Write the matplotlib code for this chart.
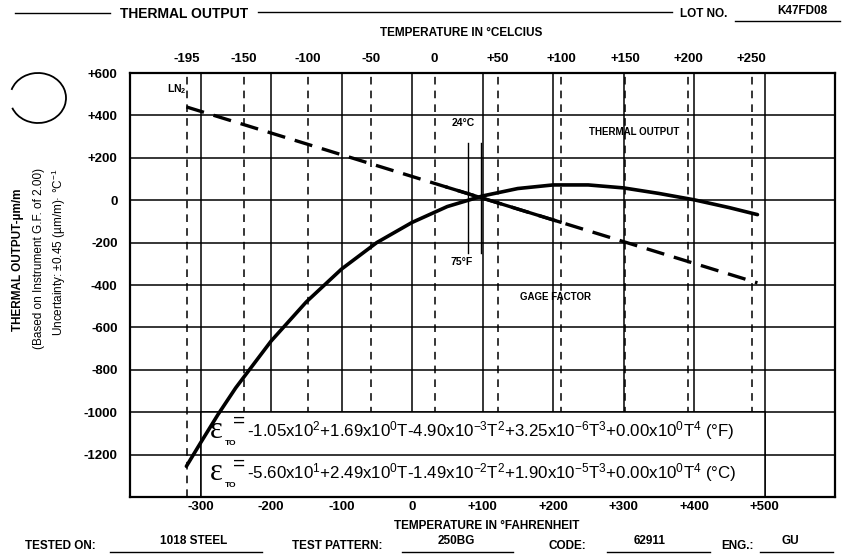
import numpy as np
import matplotlib
matplotlib.use("Agg")
import matplotlib.pyplot as plt
from matplotlib.patches import Rectangle, Arc
from matplotlib.lines import Line2D

plt.rcParams['font.family'] = ['Liberation Sans', 'DejaVu Sans']
plt.rcParams['mathtext.fontset'] = 'custom'
plt.rcParams['mathtext.rm'] = 'Liberation Sans'
plt.rcParams['mathtext.it'] = 'Liberation Sans:italic'
plt.rcParams['mathtext.bf'] = 'Liberation Sans:bold'

# Thermal output curve, deg F vs um/m
temp_f = [-320, -300, -275, -250, -200, -150, -100, -50, 0, 50, 100,
          150, 200, 250, 300, 350, 400, 450, 490]
thermal_out = [-1255, -1145, -1010, -885, -665, -480, -325, -200, -105, -30, 20,
               55, 72, 72, 58, 32, 2, -35, -68]

# Gage factor line (end points) and the solid stretch of it
gf_temp = [-320, 490]
gf_out = [440, -390]
gf_solid = [50, 210]

# Axes ticks
f_ticks = [-300, -200, -100, 0, 100, 200, 300, 400, 500]
f_labels = ['-300', '-200', '-100', '0', '+100', '+200', '+300', '+400', '+500']
c_ticks = [-195, -150, -100, -50, 0, 50, 100, 150, 200, 250]
c_labels = ['-195', '-150', '-100', '-50', '0', '+50', '+100', '+150', '+200', '+250']
y_ticks = [600, 400, 200, 0, -200, -400, -600, -800, -1000, -1200]
y_labels = ['+600', '+400', '+200', '0', '-200', '-400', '-600', '-800', '-1000', '-1200']

# 24 C / 75 F marker lines
ref_lines_f = [80, 98]
ref_span = [-250, 270]

eq_f = (r"-1.05x10$^{2}$+1.69x10$^{0}$T-4.90x10$^{-3}$T$^{2}$+3.25x10$^{-6}$T$^{3}$"
        r"+0.00x10$^{0}$T$^{4}$ (°F)")
eq_c = (r"-5.60x10$^{1}$+2.49x10$^{0}$T-1.49x10$^{-2}$T$^{2}$+1.90x10$^{-5}$T$^{3}$"
        r"+0.00x10$^{0}$T$^{4}$ (°C)")

W, H = 843, 556
fig = plt.figure(figsize=(W / 100, H / 100), dpi=100)
ax = fig.add_axes([130 / W, 1 - 497 / H, 705 / W, 424 / H])
ax.set_xlim(-400, 600)
ax.set_ylim(-1400, 600)


def fx(px):
    return px / W


def fy(py):
    return 1 - py / H


# grid
for t in f_ticks:
    ax.axvline(t, color='black', lw=1.1, zorder=1)
for v in y_ticks[1:]:
    ax.axhline(v, color='black', lw=1.1, zorder=1)
c_in_f = [c * 9 / 5 + 32 for c in c_ticks]
for t in c_in_f:
    ax.axvline(t, color='black', lw=1.1, ls=(0, (5, 4)), zorder=1)

# equation box
ax.add_patch(Rectangle((-300, -1400), 800, 400, facecolor='white',
                       edgecolor='black', lw=1.1, zorder=2))
ax.plot([-300, 500], [-1200, -1200], color='black', lw=1.1, zorder=2)

# curves
ax.plot(temp_f, thermal_out, color='black', lw=2.6, zorder=5,
        solid_capstyle='round')
ax.plot(gf_temp, gf_out, color='black', lw=2.4, ls=(0, (5.5, 3)), zorder=4)
seg_t = np.array(gf_solid)
seg_v = np.interp(seg_t, gf_temp, gf_out)
ax.plot(seg_t, seg_v, color='black', lw=2.4, zorder=4)

for t in ref_lines_f:
    ax.plot([t, t], ref_span, color='black', lw=1.0, zorder=3)

# frame and ticks
for s in ax.spines.values():
    s.set_linewidth(1.6)
ax.set_xticks(f_ticks)
ax.set_xticklabels(f_labels, fontsize=9.5, fontweight='bold')
ax.set_yticks(y_ticks)
ax.set_yticklabels(y_labels, fontsize=9.5, fontweight='bold')
ax.tick_params(axis='x', length=0, pad=3)
ax.tick_params(axis='y', length=0, pad=9)

sec = ax.secondary_xaxis('top', functions=(lambda f: (f - 32) * 5 / 9,
                                            lambda c: c * 9 / 5 + 32))
sec.set_xticks(c_ticks)
sec.set_xticklabels(c_labels, fontsize=9.5, fontweight='bold')
sec.tick_params(length=0, pad=6)
sec.spines['top'].set_visible(False)

# in-plot labels
ax.text(-333, 525, r"LN$_\mathbf{2}$", fontsize=7.5, fontweight='bold',
        ha='center', va='center')
ax.text(72, 362, "24°C", fontsize=7.5, fontweight='bold', ha='center', va='center')
ax.text(70, -290, "75°F", fontsize=7.5, fontweight='bold', ha='center', va='center')
ax.text(315, 324, "THERMAL OUTPUT", fontsize=7, fontweight='bold',
        ha='center', va='center')
ax.text(203, -457, "GAGE FACTOR", fontsize=7, fontweight='bold',
        ha='center', va='center')

# equations
for yc, eq in [(-1085, eq_f), (-1285, eq_c)]:
    ax.text(-286, yc, "ε", fontsize=22, family='Liberation Serif',
            ha='left', va='center', zorder=6)
    ax.text(-265, yc - 62, "TO", fontsize=6, fontweight='bold',
            ha='left', va='center', zorder=6)
    ax.text(-254, yc + 40, "=", fontsize=15, ha='left', va='center', zorder=6)
    ax.text(-234, yc, eq, fontsize=12.2, ha='left', va='center', zorder=6)

# axis titles
fig.text(fx(461), fy(33), "TEMPERATURE IN °CELCIUS", fontsize=8.5,
         fontweight='bold', ha='center', va='center')
fig.text(fx(487), fy(526), "TEMPERATURE IN °FAHRENHEIT", fontsize=8.5,
         fontweight='bold', ha='center', va='center')
fig.text(fx(18), fy(260), "THERMAL OUTPUT-µm/m", fontsize=8.5,
         fontweight='bold', rotation=90, ha='center', va='center')
fig.text(fx(39), fy(258), "(Based on Instrument G.F. of 2.00)", fontsize=8.5,
         rotation=90, ha='center', va='center')
fig.text(fx(59), fy(252), "Uncertainty: ±0.45 (µm/m)· °C$^{-1}$", fontsize=8.5,
         rotation=90, ha='center', va='center')

# header
fig.text(fx(184), fy(14), "THERMAL OUTPUT", fontsize=10, fontweight='bold',
         ha='center', va='center')
fig.add_artist(Line2D([fx(15), fx(110)], [fy(13), fy(13)], color='black', lw=1))
fig.add_artist(Line2D([fx(258), fx(672)], [fy(12), fy(12)], color='black', lw=1))
fig.text(fx(704), fy(14), "LOT NO.", fontsize=8.5, fontweight='bold',
         ha='center', va='center')
fig.add_artist(Line2D([fx(735), fx(840)], [fy(21), fy(21)], color='black', lw=1))
fig.text(fx(802), fy(11), "K47FD08", fontsize=8.5, fontweight='bold',
         ha='center', va='center')

# footer
footer = [("TESTED ON:", 60), ("TEST PATTERN:", 337), ("CODE:", 567), ("ENG.:", 737)]
for lab, xc in footer:
    fig.text(fx(xc), fy(546), lab, fontsize=8.5, fontweight='bold',
             ha='center', va='center')
entries = [("1018 STEEL", 194, 110, 262), ("250BG", 456, 402, 513),
           ("62911", 650, 607, 710), ("GU", 790, 760, 833)]
for val, xc, x0, x1 in entries:
    fig.text(fx(xc), fy(541), val, fontsize=8.5, fontweight='bold',
             ha='center', va='center')
    fig.add_artist(Line2D([fx(x0), fx(x1)], [fy(552), fy(552)], color='black', lw=1))

# punch-hole mark
fig.add_artist(Arc((fx(38), fy(98)), 56 / W, 50 / H, theta1=-150, theta2=155,
                   color='black', lw=1.3, transform=fig.transFigure))

fig.savefig("out.png", dpi=100)
